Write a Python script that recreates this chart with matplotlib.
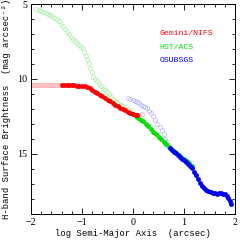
import matplotlib
matplotlib.use("Agg")
import matplotlib.pyplot as plt
from matplotlib.ticker import MultipleLocator

# Gemini/NIFS - faint inner part (open), solid part, faint outer tail
nifs_faint_x = [-2.00, -1.97, -1.94, -1.91, -1.88, -1.85, -1.82, -1.79, -1.76, -1.73,
                -1.70, -1.67, -1.64, -1.61, -1.58, -1.55, -1.52, -1.49, -1.46, -1.43]
nifs_faint_y = [10.42] * 20
nifs_x = [-1.40, -1.35, -1.30, -1.25, -1.20, -1.15, -1.10, -1.05, -1.00, -0.95,
          -0.90, -0.85, -0.80, -0.75, -0.70, -0.65, -0.60, -0.55, -0.50, -0.45,
          -0.40, -0.35, -0.30, -0.25, -0.20, -0.15, -0.10, -0.05, 0.00, 0.05, 0.07]
nifs_y = [10.42, 10.42, 10.43, 10.43, 10.44, 10.44, 10.45, 10.46, 10.47, 10.49,
          10.52, 10.60, 10.72, 10.85, 10.97, 11.07, 11.17, 11.28, 11.40, 11.50,
          11.62, 11.73, 11.82, 11.92, 12.00, 12.10, 12.20, 12.28, 12.35, 12.42, 12.45]
nifs_tail_x = [0.12, 0.17]
nifs_tail_y = [12.45, 12.33]

# HST/ACS - faint inner part (open), solid part
acs_faint_x = [-1.90, -1.85, -1.80, -1.76, -1.71, -1.67, -1.63, -1.58, -1.54, -1.50,
               -1.46, -1.42, -1.38, -1.34, -1.30, -1.26, -1.22, -1.18, -1.14, -1.10,
               -1.06, -1.02, -0.99, -0.96, -0.93, -0.90, -0.87, -0.84, -0.81, -0.78,
               -0.75, -0.71, -0.67, -0.63, -0.59, -0.55, -0.51, -0.47, -0.43, -0.39,
               -0.35, -0.31, -0.27, -0.23, -0.19, -0.15, -0.11, -0.07, -0.03]
acs_faint_y = [5.33, 5.40, 5.48, 5.56, 5.62, 5.69, 5.74, 5.83, 5.92, 6.02,
               6.15, 6.32, 6.50, 6.67, 6.85, 7.03, 7.21, 7.37, 7.50, 7.63,
               7.76, 7.88, 7.97, 8.18, 8.45, 8.70, 8.95, 9.25, 9.55, 9.85,
               10.00, 10.15, 10.35, 10.50, 10.65, 10.78, 10.90, 11.03, 11.18, 11.32,
               11.45, 11.55, 11.65, 11.73, 11.80, 11.90, 12.00, 12.10, 12.20]
acs_x = [0.00, 0.05, 0.10, 0.15, 0.20, 0.25, 0.30, 0.35, 0.40, 0.45,
         0.50, 0.55, 0.60, 0.65, 0.70, 0.75, 0.80, 0.85, 0.90, 0.95,
         1.00, 1.05, 1.10, 1.15]
acs_y = [12.35, 12.50, 12.62, 12.72, 12.82, 13.00, 13.18, 13.38, 13.55, 13.72,
         13.88, 14.05, 14.22, 14.38, 14.53, 14.66, 14.80, 14.94, 15.08, 15.23,
         15.38, 15.52, 15.65, 15.80]

# OSUBSGS - faint inner part (open), solid part
osu_faint_x = [-0.09, -0.05, 0.00, 0.04, 0.08, 0.12, 0.16, 0.20, 0.24, 0.28,
               0.32, 0.36, 0.40, 0.44, 0.48, 0.52, 0.56, 0.60, 0.63, 0.66, 0.69, 0.72]
osu_faint_y = [11.31, 11.36, 11.42, 11.50, 11.56, 11.63, 11.72, 11.80, 11.88, 11.98,
               12.12, 12.28, 12.50, 12.75, 13.00, 13.22, 13.45, 13.72, 14.00, 14.22, 14.44, 14.60]
osu_x = [0.72, 0.76, 0.80, 0.84, 0.88, 0.92, 0.96, 1.00, 1.04, 1.08,
         1.12, 1.16, 1.20, 1.24, 1.28, 1.32, 1.36, 1.40, 1.44, 1.48,
         1.52, 1.56, 1.60, 1.64, 1.68, 1.72, 1.76, 1.80, 1.84, 1.87, 1.90, 1.93]
osu_y = [14.62, 14.77, 14.88, 14.98, 15.10, 15.20, 15.33, 15.45, 15.55, 15.66,
         15.80, 15.98, 16.20, 16.45, 16.72, 16.95, 17.15, 17.30, 17.42, 17.52,
         17.58, 17.63, 17.66, 17.67, 17.66, 17.65, 17.67, 17.72, 17.82, 17.98, 18.15, 18.35]

labels = ["Gemini/NIFS", "HST/ACS", "OSUBSGS"]
colors = ["#ff0000", "#00e000", "#0000ff"]
faint = ["#ffb0b0", "#a8f0a8", "#b4b4ff"]

mono = ["Liberation Mono", "DejaVu Sans Mono"]

fig = plt.figure(figsize=(2.4, 2.4), dpi=100)
ax = fig.add_axes([31 / 240, 1 - 213.5 / 240, 204 / 240, 209.5 / 240])

ms = 3.5
ax.plot(nifs_faint_x, nifs_faint_y, "o", ms=3.0, mfc="none", mec=faint[0], mew=0.5)
ax.plot(acs_faint_x, acs_faint_y, "o", ms=3.0, mfc="none", mec=faint[1], mew=0.5)
ax.plot(osu_faint_x, osu_faint_y, "o", ms=3.0, mfc="none", mec=faint[2], mew=0.5)
ax.plot(nifs_tail_x, nifs_tail_y, "o", ms=3.0, mfc="none", mec=faint[0], mew=0.5)
ax.plot(acs_x, acs_y, "o", ms=ms, color=colors[1], mec="none")
ax.plot(nifs_x, nifs_y, "o", ms=ms, color=colors[0], mec="none")
ax.plot(osu_x, osu_y, "o", ms=ms, color=colors[2], mec="none")

ax.set_xlim(-2, 2)
ax.set_ylim(19, 5)
ax.xaxis.set_major_locator(MultipleLocator(1))
ax.xaxis.set_minor_locator(MultipleLocator(0.2))
ax.yaxis.set_major_locator(MultipleLocator(5))
ax.yaxis.set_minor_locator(MultipleLocator(1))
ax.tick_params(which="both", direction="in", top=True, right=True, width=0.6)
ax.tick_params(which="major", length=4.5, labelsize=7.2, pad=3)
ax.tick_params(which="minor", length=2.5)
for lab in ax.get_xticklabels() + ax.get_yticklabels():
    lab.set_family("Liberation Serif")
for s in ax.spines.values():
    s.set_linewidth(0.7)

ax.set_xlabel("log Semi-Major Axis  (arcsec)", family=mono, fontsize=6.4, labelpad=2)
ax.set_ylabel("H-band Surface Brightness  (mag arcsec\u207b\u00b2)", family=mono,
              fontsize=6.4, labelpad=4)

for i, (lab, c) in enumerate(zip(labels, colors)):
    ax.text(0.63, 0.85 - i * 0.063, lab, color=c, family=mono, fontsize=5.9,
            transform=ax.transAxes)

fig.savefig("out.png", dpi=100)
